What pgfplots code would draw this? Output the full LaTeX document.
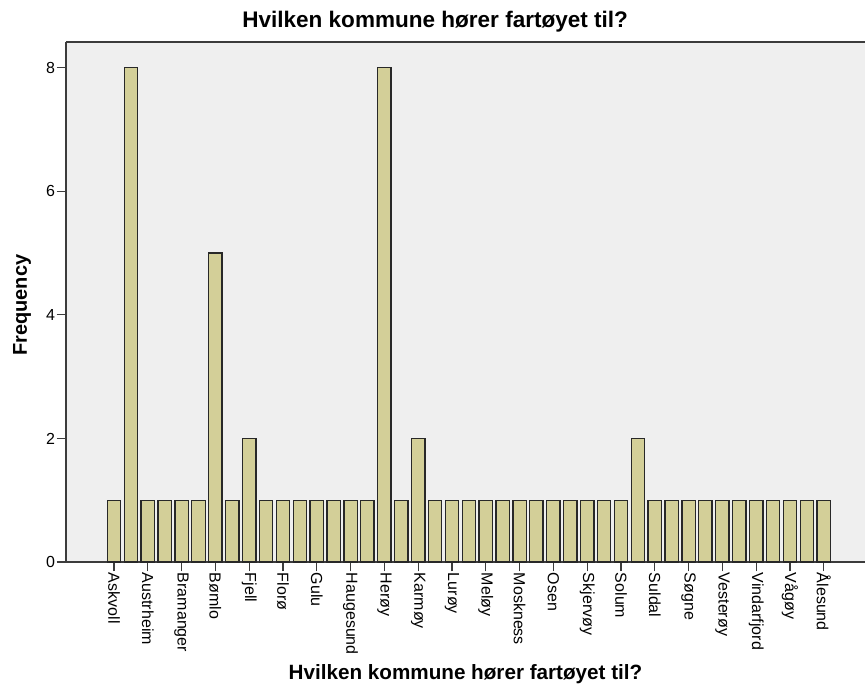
\documentclass[border=0pt]{standalone}
\usepackage{fontspec}
\setmainfont{Liberation Sans}
\usepackage{pgfplots}
\pgfplotsset{compat=1.18}
\definecolor{barcol}{RGB}{211,207,152}
\definecolor{bgcol}{RGB}{239,239,239}
\definecolor{edgecol}{RGB}{40,40,40}
\definecolor{axcol}{RGB}{60,60,60}
\begin{document}
\begin{tikzpicture}
\useasboundingbox (-49.5pt,-93pt) rectangle (600pt,421.5pt);
\begin{axis}[
  scale only axis,
  width=599.25pt, height=390pt,
  xmin=-2.84, xmax=44.44,
  ymin=0, ymax=8.415,
  axis lines*=left,
  axis line style={axcol, line width=1.1pt},
  axis background/.style={fill=bgcol},
  ybar, bar width=0.79,
  xtick={0,2,...,42},
  xticklabels={Askvoll,Austrheim,Bramanger,Bømlo,Fjell,Florø,Gulu,Haugesund,Herøy,Karmøy,Lurøy,Meløy,Moskness,Osen,Skjervøy,Solum,Suldal,Søgne,Vesterøy,Vindarfjord,Vågøy,Ålesund},
  xticklabel style={rotate=-90, anchor=west, font=\fontsize{12}{14}\selectfont, inner sep=1pt},
  ytick={0,2,4,6,8},
  yticklabel style={font=\fontsize{12}{14}\selectfont, inner sep=1pt},
  /pgf/number format/assume math mode=true,
  tick align=outside,
  major tick length=7pt,
  tick style={axcol, line width=1pt},
  xlabel={\bfseries Hvilken kommune hører fartøyet til?},
  xlabel style={font=\fontsize{15.5}{18}\selectfont, at={(rel axis cs:0.5,0)}, anchor=center, yshift=-84pt},
  ylabel={\bfseries Frequency},
  ylabel style={font=\fontsize{15}{18}\selectfont, at={(axis description cs:-0.055,0.494)}, anchor=center},
  clip=false,
]
\addplot[fill=barcol, draw=edgecol, line width=1pt] coordinates {
(0,1) (1,8) (2,1) (3,1) (4,1) (5,1) (6,5) (7,1) (8,2) (9,1)
(10,1) (11,1) (12,1) (13,1) (14,1) (15,1) (16,8) (17,1) (18,2) (19,1)
(20,1) (21,1) (22,1) (23,1) (24,1) (25,1) (26,1) (27,1) (28,1) (29,1)
(30,1) (31,2) (32,1) (33,1) (34,1) (35,1) (36,1) (37,1) (38,1) (39,1)
(40,1) (41,1) (42,1)
};
\draw[axcol, line width=1.2pt] (rel axis cs:0,1) -- (rel axis cs:1,1);
\node[font=\fontsize{16.9}{20}\selectfont\bfseries, anchor=center] at ([yshift=15pt]rel axis cs:0.462,1) {Hvilken kommune hører fartøyet til?};
\end{axis}
\end{tikzpicture}
\end{document}
